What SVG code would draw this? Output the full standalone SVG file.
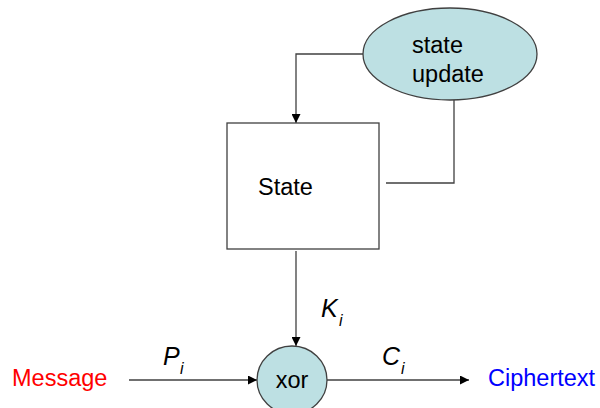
<svg xmlns="http://www.w3.org/2000/svg" width="600" height="408" viewBox="0 0 600 408">
  <style>
    .lbl { font-family: "Liberation Sans", Arial, sans-serif; font-size: 23.5px; fill: #000; }
    .it { font-style: italic; font-size: 25px; }
    .sub { font-size: 16px; font-style: italic; }
    .wire { fill: none; stroke: #404040; stroke-width: 1.3; }
    .node { stroke: #404040; stroke-width: 1.3; }
  </style>
  <defs>
    <marker id="arrow" viewBox="0 0 10 10" refX="10" refY="5" markerWidth="9" markerHeight="9" markerUnits="userSpaceOnUse" orient="auto">
      <path d="M0,0 L10,5 L0,10 z" fill="#000"/>
    </marker>
  </defs>
  <rect width="600" height="408" fill="#fff"/>

  <g id="connectors">
    <polyline class="wire" points="363,54 296,54 296,123" marker-end="url(#arrow)"/>
    <polyline class="wire" points="454,100 454,183 386,183"/>
    <line class="wire" x1="296" y1="251" x2="296" y2="346" marker-end="url(#arrow)"/>
    <line class="wire" x1="129" y1="380" x2="257" y2="380" marker-end="url(#arrow)"/>
    <line class="wire" x1="327" y1="380" x2="469" y2="380" marker-end="url(#arrow)"/>
  </g>

  <g id="state-update">
    <ellipse class="node" cx="450" cy="54" rx="87" ry="46" fill="#bde0e3"/>
    <text class="lbl" x="412" y="53">state</text>
    <text class="lbl" x="412" y="82">update</text>
  </g>

  <g id="state">
    <rect class="node" x="227" y="123" width="152" height="126" fill="#fff"/>
    <text class="lbl" x="258" y="195">State</text>
  </g>

  <g id="xor">
    <ellipse class="node" cx="292" cy="380" rx="35" ry="34" fill="#bde0e3"/>
    <text class="lbl" x="292" y="388" text-anchor="middle">xor</text>
  </g>

  <g id="labels">
    <text class="lbl" x="12" y="386" style="fill:#ff0000">Message</text>
    <text class="lbl" x="488" y="386" style="fill:#0000ff">Ciphertext</text>
    <text class="lbl it" x="163" y="365">P</text>
    <text class="lbl sub" x="180" y="374">i</text>
    <text class="lbl it" x="382" y="365">C</text>
    <text class="lbl sub" x="401" y="374">i</text>
    <text class="lbl it" x="321" y="317">K</text>
    <text class="lbl sub" x="339" y="326">i</text>
  </g>
</svg>
